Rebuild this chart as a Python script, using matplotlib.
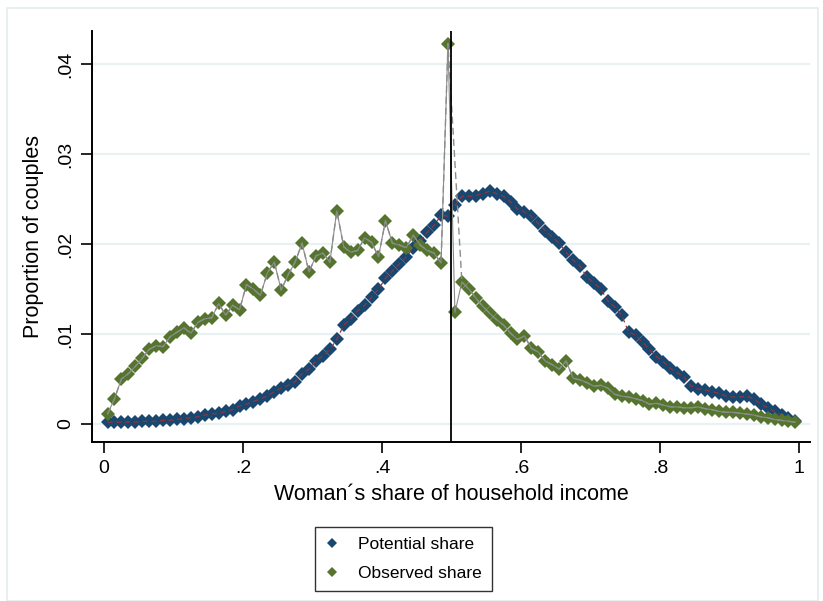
import numpy as np
import matplotlib
matplotlib.use('Agg')
import matplotlib.pyplot as plt
from matplotlib.lines import Line2D
from matplotlib.patches import Rectangle

# Bin midpoints of the woman's income share (1% bins)
share_bins = np.round(np.arange(0.005, 1.0, 0.01), 3)

# Proportion of couples in each bin
potential_share = [
    0.0002, 0.0002, 0.0002, 0.0002, 0.0002, 0.0003, 0.0003, 0.0003, 0.0004, 0.0004,
    0.0005, 0.0006, 0.0007, 0.0008, 0.0010, 0.0011, 0.0012, 0.0014, 0.0016, 0.0020,
    0.0022, 0.0025, 0.0028, 0.0031, 0.0036, 0.0040, 0.0043, 0.0047, 0.0056, 0.0061,
    0.0070, 0.0076, 0.0083, 0.0094, 0.0110, 0.0117, 0.0126, 0.0132, 0.0141, 0.0150,
    0.0162, 0.0170, 0.0178, 0.0186, 0.0196, 0.0203, 0.0213, 0.0221, 0.0232, 0.0231,
    0.0243, 0.0253, 0.0253, 0.0254, 0.0256, 0.0259, 0.0256, 0.0253, 0.0247, 0.0239,
    0.0236, 0.0231, 0.0223, 0.0215, 0.0208, 0.0201, 0.0191, 0.0182, 0.0176, 0.0163,
    0.0157, 0.0150, 0.0137, 0.0130, 0.0121, 0.0102, 0.0099, 0.0091, 0.0083, 0.0075,
    0.0069, 0.0062, 0.0057, 0.0052, 0.0042, 0.0039, 0.0038, 0.0036, 0.0034, 0.0031,
    0.0030, 0.0030, 0.0031, 0.0028, 0.0022, 0.0018, 0.0014, 0.0010, 0.0007, 0.0003,
]
observed_share = [
    0.0011, 0.0028, 0.0050, 0.0056, 0.0064, 0.0073, 0.0083, 0.0087, 0.0086, 0.0097,
    0.0102, 0.0107, 0.0101, 0.0113, 0.0117, 0.0118, 0.0134, 0.0121, 0.0132, 0.0127,
    0.0155, 0.0150, 0.0143, 0.0168, 0.0180, 0.0149, 0.0166, 0.0180, 0.0201, 0.0169,
    0.0187, 0.0190, 0.0180, 0.0237, 0.0197, 0.0191, 0.0193, 0.0207, 0.0202, 0.0186,
    0.0226, 0.0201, 0.0199, 0.0196, 0.0210, 0.0199, 0.0193, 0.0190, 0.0179, 0.0423,
    0.0124, 0.0158, 0.0150, 0.0140, 0.0131, 0.0123, 0.0116, 0.0110, 0.0101, 0.0094,
    0.0098, 0.0084, 0.0080, 0.0070, 0.0066, 0.0061, 0.0070, 0.0051, 0.0049, 0.0046,
    0.0042, 0.0043, 0.0040, 0.0033, 0.0031, 0.0030, 0.0028, 0.0026, 0.0022, 0.0023,
    0.0021, 0.0019, 0.0019, 0.0018, 0.0018, 0.0019, 0.0017, 0.0016, 0.0014, 0.0013,
    0.0013, 0.0012, 0.0011, 0.0010, 0.0008, 0.0007, 0.0005, 0.0004, 0.0003, 0.0002,
]

x_ticks = [0, 0.2, 0.4, 0.6, 0.8, 1.0]
x_ticklabels = ['0', '.2', '.4', '.6', '.8', '1']
y_ticks = [0, 0.01, 0.02, 0.03, 0.04]
y_ticklabels = ['0', '.01', '.02', '.03', '.04']

navy = '#1a476f'
maroon = '#90353b'
green = '#55752f'
grid_col = '#e9f1f3'

plt.rcParams['font.family'] = ['Liberation Sans', 'DejaVu Sans']

fig = plt.figure(figsize=(8.23, 6.01), dpi=100)
fig.patches.append(Rectangle((0.009, 0.0), 0.985, 0.987, transform=fig.transFigure,
                             fill=False, edgecolor='#e4ecee', linewidth=1.2))
ax = fig.add_axes([0.1118, 0.2646, 0.8724, 0.6838])

x = share_bins
pot = np.array(potential_share)
obs = np.array(observed_share)

# potential share: markers with a dashed maroon connector
ax.plot(x, pot, linestyle='none', marker='D', markersize=7.6, color=navy,
        markeredgewidth=0, zorder=3)
ax.plot(x, pot, linestyle=(0, (4, 3)), color=maroon, linewidth=0.9, zorder=4)

# observed share: markers with solid and dashed gray connectors
ax.plot(x, obs, linestyle='none', marker='D', markersize=7.6, color=green,
        markeredgewidth=0, zorder=5)
ax.plot(x, obs, color='#8c8c8c', linewidth=0.8, zorder=6)
skip = 50
ax.plot(np.delete(x, skip), np.delete(obs, skip), linestyle=(0, (5, 3)),
        color='#8c8c8c', linewidth=1.0, zorder=6)

# equal-earnings line
ax.axvline(0.5, color='black', linewidth=1.3, zorder=7)

ax.set_xlim(-0.0173, 1.016)
ax.set_ylim(-0.002, 0.0437)
ax.set_yticks(y_ticks)
ax.set_yticklabels(y_ticklabels, rotation=90, va='center')
ax.set_xticks(x_ticks)
ax.set_xticklabels(x_ticklabels)
ax.tick_params(axis='both', length=8, width=1.2, labelsize=14, colors='black')
ax.tick_params(axis='y', pad=5)
ax.tick_params(axis='x', pad=5)

for y in y_ticks:
    ax.axhline(y, color=grid_col, linewidth=1.6, zorder=0)

for side in ['top', 'right']:
    ax.spines[side].set_visible(False)
for side in ['left', 'bottom']:
    ax.spines[side].set_linewidth(1.4)

ax.set_xlabel('Woman\u00b4s share of household income', fontsize=15.5, labelpad=5)
ax.set_ylabel('Proportion of couples', fontsize=15.5, labelpad=9)

handles = [
    Line2D([], [], linestyle='none', marker='D', markersize=5.5, color=navy,
           markeredgewidth=0, label='Potential share'),
    Line2D([], [], linestyle='none', marker='D', markersize=5.5, color=green,
           markeredgewidth=0, label='Observed share'),
]
leg = fig.legend(handles=handles, loc='center', bbox_to_anchor=(0.4903, 0.0699),
                 fontsize=12.5, frameon=True, fancybox=False, edgecolor='black',
                 handlelength=0.8, handletextpad=1.1, labelspacing=0.75,
                 borderpad=0.6, borderaxespad=0)
leg.get_frame().set_linewidth(1.0)

fig.savefig('out.png', dpi=100)
